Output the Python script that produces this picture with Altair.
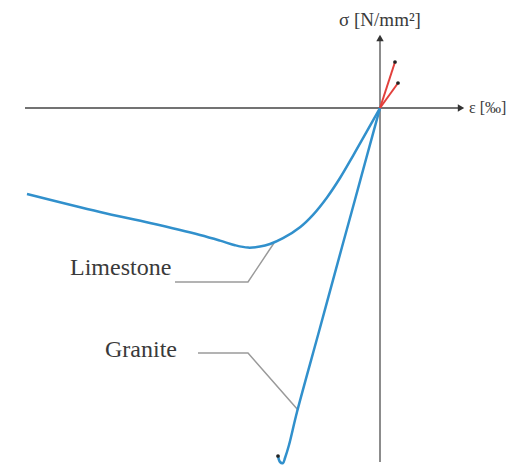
import altair as alt
import pandas as pd

# Stress-strain curves (strain in ‰, stress in N/mm², compression negative)
limestone_eps = [-3.53, -2.80, -2.30, -1.80, -1.60, -1.45, -1.32, -1.20, -1.10,
                 -0.97, -0.80, -0.67, -0.53, -0.40, -0.27, -0.14, 0.0]
limestone_sig = [-43.0, -52.0, -57.5, -63.5, -66.3, -68.6, -69.8, -69.3, -68.0,
                 -65.1, -59.6, -53.4, -44.7, -35.0, -23.9, -12.4, 0.0]

granite_eps = [0.0, -0.134, -0.251, -0.38, -0.606, -0.83, -0.91, -0.95, -0.97, -1.00, -1.02]
granite_sig = [0.0, -24.5, -46.0, -69.5, -111.0, -152.0, -168.5, -175.0, -177.5, -177.0, -174.0]

# Tensile branches (end points)
tension_eps = [0.15, 0.18]
tension_sig = [23.0, 12.5]

# Leader lines for the labels
lime_leader_eps = [-2.05, -1.32, -1.06]
lime_leader_sig = [-87.0, -87.0, -67.5]
gran_leader_eps = [-1.82, -1.32, -0.82]
gran_leader_sig = [-122.5, -122.5, -151.0]

labels = ["Limestone", "Granite"]
label_eps = [-3.10, -2.75]
label_sig = [-80.0, -121.0]

W, H = 517, 471
x_scale = alt.Scale(domain=[-3.80, 1.37], nice=False, zero=False)
y_scale = alt.Scale(domain=[-181.5, 54.0], nice=False, zero=False)
X = lambda f="eps": alt.X(f"{f}:Q", scale=x_scale, axis=None)
Y = lambda f="sig": alt.Y(f"{f}:Q", scale=y_scale, axis=None)

SERIF = "Liberation Serif"
BLUE = "#3190cc"
RED = "#e2403c"
TEXT = "#3a3a3a"

def path(eps, sig):
    return pd.DataFrame({"eps": eps, "sig": sig, "i": range(len(eps))})

# Coordinate axes
h_axis = alt.Chart(pd.DataFrame({"eps": [-3.55], "eps2": [0.82], "sig": [0.0]})).mark_rule(
    color="#444", strokeWidth=1.5).encode(x=X(), x2="eps2:Q", y=Y())
v_axis = alt.Chart(pd.DataFrame({"eps": [0.0], "sig": [-177.0], "sig2": [34.0]})).mark_rule(
    color="#666", strokeWidth=1.5).encode(x=X(), y=Y(), y2="sig2:Q")
arrow_x = alt.Chart(pd.DataFrame({"eps": [0.81], "sig": [0.0]})).mark_point(
    shape="triangle-right", filled=True, color="#333", size=55, opacity=1).encode(x=X(), y=Y())
arrow_y = alt.Chart(pd.DataFrame({"eps": [0.0], "sig": [35.0]})).mark_point(
    shape="triangle-up", filled=True, color="#333", size=55, opacity=1).encode(x=X(), y=Y())

sigma_lbl = alt.Chart(pd.DataFrame({"eps": [0.0], "sig": [44.0], "t": ["σ [N/mm²]"]})).mark_text(
    font=SERIF, fontSize=19, color=TEXT, align="center").encode(x=X(), y=Y(), text="t:N")
eps_lbl = alt.Chart(pd.DataFrame({"eps": [0.89], "sig": [0.0], "t": ["ε [‰]"]})).mark_text(
    font=SERIF, fontSize=16, color=TEXT, align="left").encode(x=X(), y=Y(), text="t:N")

# Curves
def curve(eps, sig, color, width=2.5):
    return alt.Chart(path(eps, sig)).mark_line(
        color=color, strokeWidth=width, interpolate="catmull-rom").encode(
        x=X(), y=Y(), order="i:Q")

lime = curve(limestone_eps, limestone_sig, BLUE)
gran = curve(granite_eps, granite_sig, BLUE)

tension = alt.Chart(pd.DataFrame({
    "eps": [0.0, tension_eps[0], 0.0, tension_eps[1]],
    "sig": [0.0, tension_sig[0], 0.0, tension_sig[1]],
    "k": ["a", "a", "b", "b"], "i": [0, 1, 0, 1]})).mark_line(
    color=RED, strokeWidth=2).encode(x=X(), y=Y(), detail="k:N", order="i:Q")

ends = alt.Chart(pd.DataFrame({
    "eps": tension_eps + [granite_eps[-1]],
    "sig": tension_sig + [granite_sig[-1]]})).mark_circle(
    color="#222", size=14, opacity=1).encode(x=X(), y=Y())

# Label leaders and text
leader_l = alt.Chart(path(lime_leader_eps, lime_leader_sig)).mark_line(
    color="#9a9a9a", strokeWidth=1.5).encode(x=X(), y=Y(), order="i:Q")
leader_g = alt.Chart(path(gran_leader_eps, gran_leader_sig)).mark_line(
    color="#9a9a9a", strokeWidth=1.5).encode(x=X(), y=Y(), order="i:Q")
names = alt.Chart(pd.DataFrame({"eps": label_eps, "sig": label_sig, "t": labels})).mark_text(
    font=SERIF, fontSize=24, color=TEXT, align="left").encode(x=X(), y=Y(), text="t:N")

chart = alt.layer(
    h_axis, v_axis, arrow_x, arrow_y, sigma_lbl, eps_lbl,
    leader_l, leader_g, lime, gran, tension, ends, names
).properties(
    width=W, height=H, padding=0, autosize="none", background="white"
).configure_view(stroke=None)

chart.save("out.html", embed_options={"renderer": "svg", "actions": False})
